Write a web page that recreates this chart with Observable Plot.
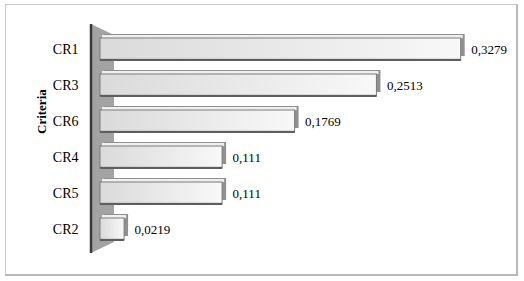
<!DOCTYPE html>
<html>
<head>
<meta charset="utf-8">
<script src="https://cdn.jsdelivr.net/npm/d3@7"></script>
<script src="https://cdn.jsdelivr.net/npm/@observablehq/plot@0.6"></script>
<style>
  html, body { margin: 0; padding: 0; background: #fff; }
  #wrap { position: relative; width: 524px; height: 281px; }
  #frame { position: absolute; left: 5px; top: 4px; width: 510px; height: 269px;
           border-left: 1px solid #c8c8c8; border-top: 1px solid #c8c8c8;
           border-right: 2px solid #b8b8b8; border-bottom: 2px solid #b8b8b8; }
  #chart { position: absolute; left: 0; top: 0; }
  #chart text { font-family: 'Liberation Serif', 'DejaVu Serif', serif; }
</style>
</head>
<body>
<div id="wrap"><div id="frame"></div><div id="chart"></div></div>
<script>
const categories = ["CR1", "CR3", "CR6", "CR4", "CR5", "CR2"];
const values = [0.3279, 0.2513, 0.1769, 0.111, 0.111, 0.0219];
const valueLabels = ["0,3279", "0,2513", "0,1769", "0,111", "0,111", "0,0219"];
const axisTitle = "Criteria";

const data = categories.map((c, i) => ({cat: c, v: values[i], label: valueLabels[i]}));

const W = 524, H = 281, mT = 22, mB = 26, mL = 100, mR = 39;
const pad = 0.4;
const step = (H - mT - mB) / (categories.length - pad + 2 * pad);
const bw = step * (1 - pad);
const NS = "http://www.w3.org/2000/svg";
const SERIF = "'Liberation Serif', 'DejaVu Serif', serif";

function el(name, attrs) {
  const e = document.createElementNS(NS, name);
  for (const k in attrs) e.setAttribute(k, attrs[k]);
  return e;
}

function findArgs(args) {
  let scales = null, dims = null;
  for (const a of args) {
    if (a && typeof a === "object") {
      if (!scales && typeof a.x === "function" && typeof a.y === "function") scales = a;
      if (!dims && "marginLeft" in a && "width" in a) dims = a;
    }
  }
  return {scales, dims};
}

// gradient defs + back wall drawn from the x scale origin
function wallMark(...args) {
  const {scales, dims} = findArgs(args);
  const g = el("g", {});
  const defs = el("defs", {});
  const grad = el("linearGradient", {id: "barGrad", x1: "0", y1: "0", x2: "1", y2: "0"});
  grad.appendChild(el("stop", {offset: "0", "stop-color": "#dadada"}));
  grad.appendChild(el("stop", {offset: "1", "stop-color": "#f8f8f8"}));
  defs.appendChild(grad);
  g.appendChild(defs);
  const x0 = scales ? scales.x(0) : mL;
  const top = dims ? dims.marginTop + 2 : mT + 2;
  const bottom = dims ? dims.height - dims.marginBottom - 2 : H - mB - 2;
  const l = x0 - 9, r = x0 + 14;
  g.appendChild(el("polygon", {
    points: `${l},${top} ${r},${top + 11} ${r},${bottom - 11} ${l},${bottom}`,
    fill: "#a3a3a3"
  }));
  g.appendChild(el("line", {x1: l, x2: l, y1: top, y2: bottom, stroke: "#3a3a3a", "stroke-width": 2.5}));
  return g;
}

const chart = Plot.plot({
  width: W, height: H,
  marginTop: mT, marginBottom: mB, marginLeft: mL, marginRight: mR,
  x: {domain: [0, 0.35], axis: null},
  y: {domain: categories, padding: pad, label: null, tickSize: 0, tickPadding: 22},
  style: {fontFamily: SERIF, fontSize: "14px", color: "#000", background: "transparent", overflow: "visible"},
  marks: [
    wallMark,
    Plot.barX(data, {x: "v", y: "cat", dx: 4, dy: -4, fill: "#909090"}),
    Plot.barX(data, {x: "v", y: "cat", dx: 2, dy: -3, insetBottom: bw - 3, fill: "#efefef"}),
    Plot.barX(data, {x: "v", y: "cat", fill: "url(#barGrad)", stroke: "#7c7c7c", strokeWidth: 1}),
    Plot.barX(data, {x: "v", y: "cat", dy: 1, insetTop: bw - 2, fill: "#5e5e5e"}),
    Plot.text(data, {x: "v", y: "cat", text: "label", dx: 10, textAnchor: "start", fontSize: 13, fontFamily: SERIF, fill: "#000"}),
    Plot.text([axisTitle], {frameAnchor: "left", dx: -59, dy: -5, rotate: -90, fontWeight: "bold", fontSize: 13, fontFamily: SERIF, fill: "#000"})
  ]
});
document.getElementById("chart").appendChild(chart);
</script>
</body>
</html>
